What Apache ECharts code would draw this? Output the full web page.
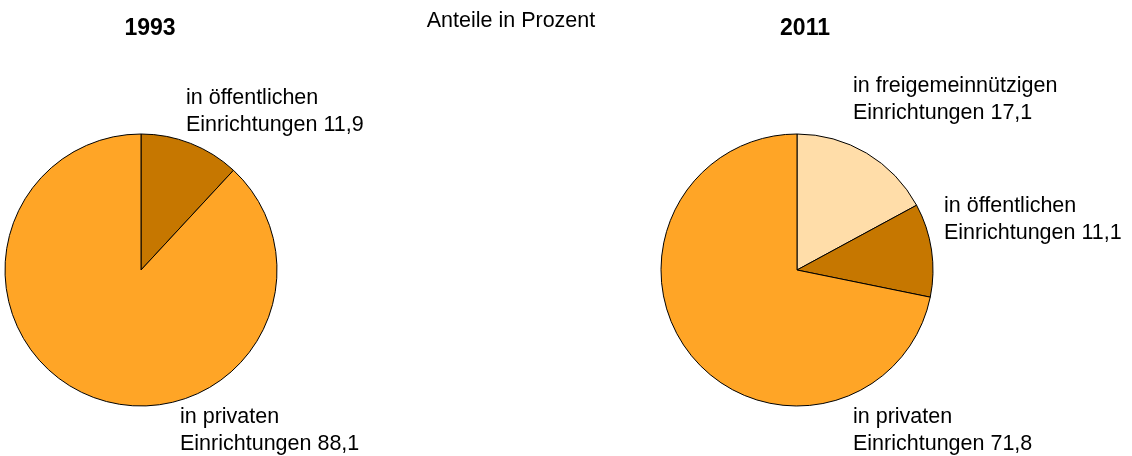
<!DOCTYPE html>
<html>
<head>
<meta charset="utf-8">
<script src="https://cdn.jsdelivr.net/npm/echarts@6/dist/echarts.min.js"></script>
<style>
html,body{margin:0;padding:0;background:#fff;}
#c{width:1132px;height:456px;}
</style>
</head>
<body>
<div id="c"></div>
<script>
var years = ['1993', '2011'];
var subtitle = 'Anteile in Prozent';
var names1993 = ['in öffentlichen', 'in privaten'];
var values1993 = [11.9, 88.1];
var names2011 = ['in freigemeinnützigen', 'in öffentlichen', 'in privaten'];
var values2011 = [17.1, 11.1, 71.8];

var colorMap = {
  'in freigemeinnützigen': '#FFDDA9',
  'in öffentlichen': '#C67700',
  'in privaten': '#FFA526'
};
var FONT = "'Liberation Sans', Arial, sans-serif";

function fmt(v){ return v.toFixed(1).replace('.', ','); }
function mkData(names, values){
  return names.map(function(n, i){
    return { name: n, value: values[i], itemStyle: { color: colorMap[n] } };
  });
}

// label positions (layout only)
var labelPos1993 = [[186, 85], [180, 404]];
var labelPos2011 = [[853, 73], [944, 193], [853, 404]];

var chart = echarts.init(document.getElementById('c'), null, { renderer: 'canvas' });

function pieSeries(names, values, center, pos){
  return {
    type: 'pie',
    center: center,
    radius: 136,
    startAngle: 90,
    clockwise: true,
    animation: false,
    emphasis: { disabled: true },
    itemStyle: { borderColor: '#000', borderWidth: 1 },
    label: {
      show: true,
      position: 'outside',
      fontFamily: FONT,
      fontSize: 21.5,
      lineHeight: 26.5,
      color: '#000',
      width: 400,
      overflow: 'none',
      formatter: function(p){ return p.name + '\nEinrichtungen ' + fmt(p.value); }
    },
    labelLine: { show: false },
    labelLayout: function(params){
      var pt = pos[params.dataIndex];
      return { x: pt[0], y: pt[1], align: 'left', verticalAlign: 'top', hideOverlap: false, moveOverlap: null };
    },
    data: mkData(names, values)
  };
}

chart.setOption({
  backgroundColor: '#fff',
  animation: false,
  title: [
    { text: years[0], left: 150, top: 17, textAlign: 'center', padding: 0,
      textStyle: { fontFamily: FONT, fontSize: 23, fontWeight: 'bold', color: '#000' } },
    { text: subtitle, left: 511, top: 10, textAlign: 'center', padding: 0,
      textStyle: { fontFamily: FONT, fontSize: 21.5, fontWeight: 'normal', color: '#000' } },
    { text: years[1], left: 805, top: 17, textAlign: 'center', padding: 0,
      textStyle: { fontFamily: FONT, fontSize: 23, fontWeight: 'bold', color: '#000' } }
  ],
  series: [
    pieSeries(names1993, values1993, [141, 270], labelPos1993),
    pieSeries(names2011, values2011, [797, 270], labelPos2011)
  ]
});
</script>
</body>
</html>
